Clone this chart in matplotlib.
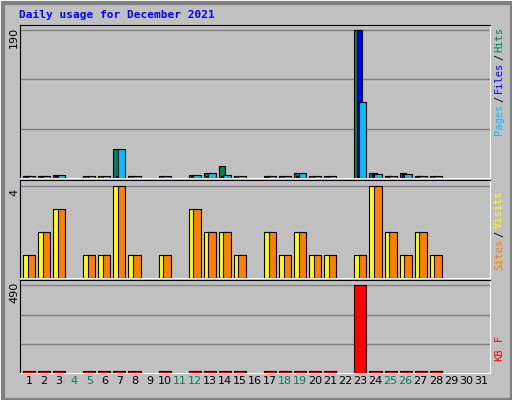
import matplotlib
matplotlib.use("Agg")
import matplotlib.pyplot as plt
from matplotlib.patches import Rectangle

days = list(range(1, 32))
weekend = [4, 5, 11, 12, 18, 19, 25, 26]
hits  = [2,3,4,0,1,1,37,1,0,1,0,4,6,15,1,0,3,1,6,1,1,0,190,6,3,6,3,1,0,0,0]
files = [1,1,1,0,0,0,3,0,0,0,0,1,1,1,0,0,1,0,1,0,0,0,190,6,1,5,1,0,0,0,0]
pages = [2,3,4,0,1,1,37,1,0,1,0,4,6,4,1,0,3,1,6,1,1,0,98,5,3,5,3,1,0,0,0]
visits= [1,2,3,0,1,1,4,1,0,1,0,3,2,2,1,0,2,1,2,1,1,0,1,4,2,1,2,1,0,0,0]
sites = [1,2,3,0,1,1,4,1,0,1,0,3,2,2,1,0,2,1,2,1,1,0,1,4,2,1,2,1,0,0,0]
kbytes= [2,2,2,0,2,2,12,2,0,2,0,2,2,6,2,0,2,2,2,2,2,0,490,2,2,6,2,2,0,0,0]

W, H = 512, 400
fig = plt.figure(figsize=(W/100, H/100), dpi=100)
fig.patch.set_facecolor('#c0c0c0')
fig.add_artist(Rectangle((0,0),1,1,transform=fig.transFigure,fill=False,ec='white',lw=2))
fig.add_artist(Rectangle((3/W,0),(W-3)/W,(H-3)/H,transform=fig.transFigure,fill=False,ec='#808080',lw=3))
fig.text(19/W, 1-15/H, "Daily usage for December 2021", color='#0000ff', family='DejaVu Sans Mono',
         weight='bold', fontsize=8, va='center')

def mkax(top, bot):
    ax = fig.add_axes([20/W, 1-bot/H, 470/W, (bot-top)/H])
    ax.set_facecolor('#c0c0c0')
    ax.set_xlim(0.4, 31.6)
    ax.set_xticks([])
    ax.set_yticks([])
    ax.spines['right'].set_color('white'); ax.spines['bottom'].set_color('white')
    ax.spines['top'].set_color('black'); ax.spines['left'].set_color('black')
    return ax

def bars(ax, vals, x0, w, color, mn):
    for d, v in zip(days, vals):
        if v > 0:
            ax.bar(d + x0, max(v, mn), width=w, align='edge', color=color, edgecolor='black', lw=0.8, zorder=3)

ax1 = mkax(25, 178)
ax1.set_ylim(0, 190*1.035)
for g in [190/3, 380/3, 190]:
    ax1.axhline(g, color='#808080', lw=1, zorder=1)
bars(ax1, hits, -0.4, 0.4, '#00805c', 3)
bars(ax1, files, -0.25, 0.35, '#0000ff', 3)
bars(ax1, pages, -0.1, 0.5, '#00c0ff', 3)

ax2 = mkax(180, 278)
ax2.set_ylim(0, 4*1.07)
ax2.axhline(4, color='#808080', lw=1, zorder=1)
bars(ax2, visits, -0.4, 0.45, '#ffff00', 0)
bars(ax2, sites, -0.1, 0.5, '#ff8000', 0)

ax3 = mkax(280, 373)
ax3.set_ylim(0, 490*1.06)
for g in [490/3, 980/3, 490]:
    ax3.axhline(g, color='#808080', lw=1, zorder=1)
bars(ax3, kbytes, -0.4, 0.8, '#ff0000', 9)

for txt, t in [('190', 25), ('4', 180), ('490', 280)]:
    fig.text(14/W, 1-(t+12)/H, txt, rotation=90, fontsize=8, ha='center', va='center', family='DejaVu Sans')

for d in days:
    ax3.text(d, -0.03, str(d), transform=ax3.get_xaxis_transform(), ha='center', va='top',
             fontsize=8, color='#00805c' if d in weekend else 'black')

def vlabel(parts, ybot):
    y = ybot
    for t, c in parts:
        n = len(t)
        fig.text(499/W, 1-(y - n*3.5)/H, t, rotation=90, color=c, fontsize=7.5,
                 family='DejaVu Sans Mono', ha='center', va='center')
        y -= n*7.0
vlabel([('Pages','#00c0ff'),('/','black'),('Files','#0000ff'),('/','black'),('Hits','#00805c')], 137)
vlabel([('Sites','#ff8000'),('/','black'),('Visits','#ffff00')], 272)
vlabel([('KB','#ff0000'),(' ','black'),('F','#ff0000')], 362)
fig.savefig('out.png', dpi=100, facecolor=fig.get_facecolor())
